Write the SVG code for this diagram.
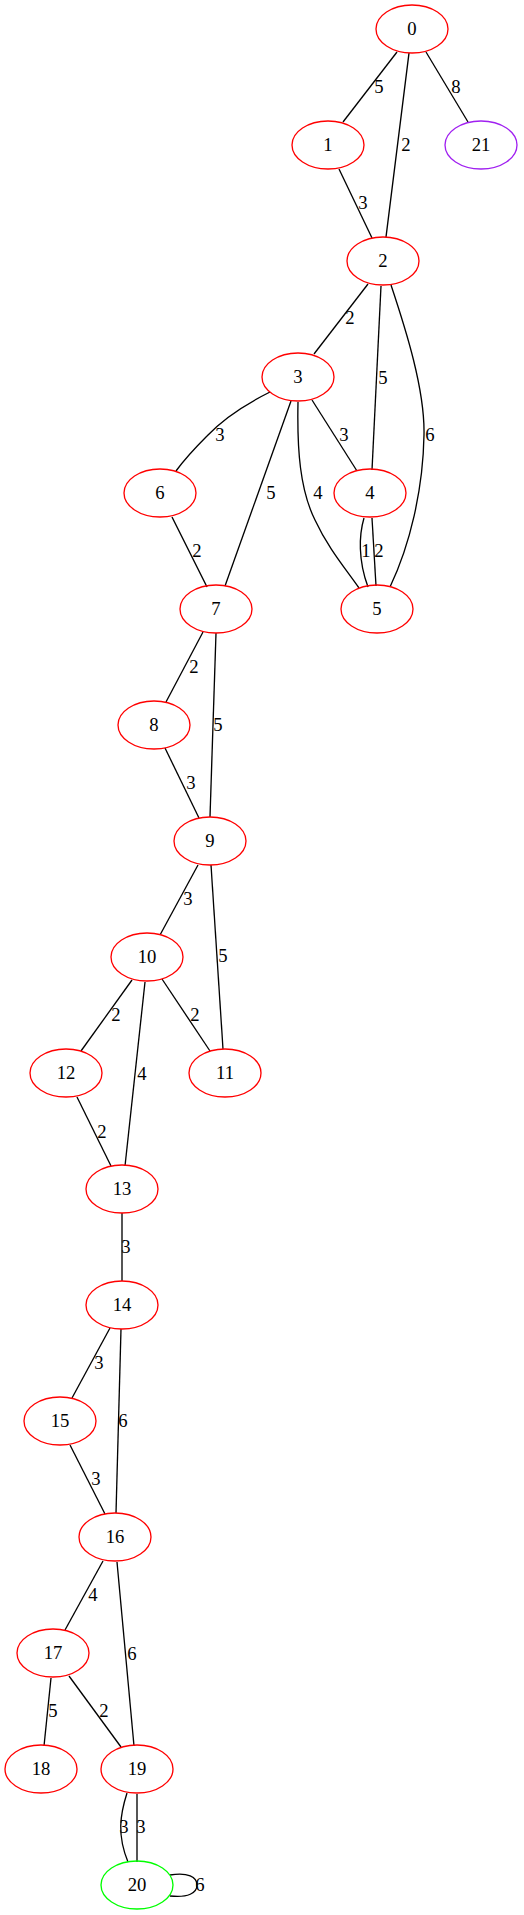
<svg xmlns="http://www.w3.org/2000/svg" width="524" height="1915" viewBox="0 0 524 1915">
<style>
.n ellipse{fill:none;stroke:#ff0000;stroke-width:1.33}
.n text,.e text{font-family:"Liberation Serif","Times New Roman",serif;font-size:18.67px;text-anchor:middle;fill:#000}
.e path{fill:none;stroke:#000;stroke-width:1.33}
</style>
<rect width="524" height="1915" fill="#fff"/>
<g id="edges" class="e">
<path d="M397,52 L343,122"/><text x="379" y="92.5">5</text>
<path d="M409,53 L386,237"/><text x="406" y="150.5">2</text>
<path d="M426,52 L468,122"/><text x="456" y="92.5">8</text>
<path d="M339,169 L372,238"/><text x="363" y="208.5">3</text>
<path d="M368,284 L314,354"/><text x="350" y="323.5">2</text>
<path d="M381,286 L372,470"/><text x="383" y="383.5">5</text>
<path d="M391,285 C406,330 425,390 424,435 C423,490 410,545 390,587"/><text x="430" y="440.5">6</text>
<path d="M270,392 C242,406 222,420 207,436 C194,449 184,460 176,471"/><text x="220" y="440.5">3</text>
<path d="M291,401 L225,586"/><text x="271" y="498.5">5</text>
<path d="M298,402 C297,450 300,490 315,520 C328,548 345,568 359,588"/><text x="318" y="498.5">4</text>
<path d="M312,400 L357,471"/><text x="344" y="440.5">3</text>
<path d="M364,518 C359,535 358,560 368,587"/><text x="366" y="556.5">1</text>
<path d="M372,518 L376,586"/><text x="379" y="556.5">2</text>
<path d="M172,517 L207,587"/><text x="197" y="556.5">2</text>
<path d="M203,632 L166,702"/><text x="194" y="672.5">2</text>
<path d="M216,633 L210,817"/><text x="218" y="730.5">5</text>
<path d="M165,748 L199,818"/><text x="191" y="788.5">3</text>
<path d="M198,865 L160,935"/><text x="188" y="904.5">3</text>
<path d="M211,865 L223,1049"/><text x="223" y="961.5">5</text>
<path d="M132,980 L81,1051"/><text x="116" y="1020.5">2</text>
<path d="M145,982 L125,1166"/><text x="142" y="1079.5">4</text>
<path d="M162,979 L210,1051"/><text x="195" y="1020.5">2</text>
<path d="M77,1097 L111,1166"/><text x="102" y="1137.5">2</text>
<path d="M122,1213 L122,1281"/><text x="126" y="1252.5">3</text>
<path d="M110,1328 L72,1398"/><text x="99" y="1368.5">3</text>
<path d="M121,1329 L116,1513"/><text x="123" y="1426.5">6</text>
<path d="M70,1445 L105,1514"/><text x="96" y="1484.5">3</text>
<path d="M103,1561 L65,1630"/><text x="93" y="1600.5">4</text>
<path d="M117,1562 L134,1746"/><text x="132" y="1659.5">6</text>
<path d="M51,1678 L44,1746"/><text x="53" y="1716.5">5</text>
<path d="M69,1676 L121,1747"/><text x="104" y="1716.5">2</text>
<path d="M127,1793 C120,1815 117,1835 128,1862"/><text x="124" y="1832.5">3</text>
<path d="M137,1794 L137,1862"/><text x="141" y="1832.5">3</text>
<path d="M170,1875 C188,1872 197,1877 197,1885 C197,1893 188,1898 170,1896"/><text x="200" y="1890.5">6</text>
</g>
<g id="n0" class="n"><ellipse cx="412" cy="29" rx="36" ry="24"/><text x="412" y="35">0</text></g>
<g id="n1" class="n"><ellipse cx="328" cy="145" rx="36" ry="24"/><text x="328" y="151">1</text></g>
<g id="n21" class="n"><ellipse cx="481" cy="145" rx="36" ry="24" style="stroke:#a020f0"/><text x="481" y="151">21</text></g>
<g id="n2" class="n"><ellipse cx="383" cy="261" rx="36" ry="24"/><text x="383" y="267">2</text></g>
<g id="n3" class="n"><ellipse cx="298" cy="377" rx="36" ry="24"/><text x="298" y="383">3</text></g>
<g id="n6" class="n"><ellipse cx="160" cy="493" rx="36" ry="24"/><text x="160" y="499">6</text></g>
<g id="n4" class="n"><ellipse cx="370" cy="493" rx="36" ry="24"/><text x="370" y="499">4</text></g>
<g id="n7" class="n"><ellipse cx="216" cy="609" rx="36" ry="24"/><text x="216" y="615">7</text></g>
<g id="n5" class="n"><ellipse cx="377" cy="609" rx="36" ry="24"/><text x="377" y="615">5</text></g>
<g id="n8" class="n"><ellipse cx="154" cy="725" rx="36" ry="24"/><text x="154" y="731">8</text></g>
<g id="n9" class="n"><ellipse cx="210" cy="841" rx="36" ry="24"/><text x="210" y="847">9</text></g>
<g id="n10" class="n"><ellipse cx="147" cy="957" rx="36" ry="24"/><text x="147" y="963">10</text></g>
<g id="n12" class="n"><ellipse cx="66" cy="1073" rx="36" ry="24"/><text x="66" y="1079">12</text></g>
<g id="n11" class="n"><ellipse cx="225" cy="1073" rx="36" ry="24"/><text x="225" y="1079">11</text></g>
<g id="n13" class="n"><ellipse cx="122" cy="1189" rx="36" ry="24"/><text x="122" y="1195">13</text></g>
<g id="n14" class="n"><ellipse cx="122" cy="1305" rx="36" ry="24"/><text x="122" y="1311">14</text></g>
<g id="n15" class="n"><ellipse cx="60" cy="1421" rx="36" ry="24"/><text x="60" y="1427">15</text></g>
<g id="n16" class="n"><ellipse cx="115" cy="1537" rx="36" ry="24"/><text x="115" y="1543">16</text></g>
<g id="n17" class="n"><ellipse cx="53" cy="1653" rx="36" ry="24"/><text x="53" y="1659">17</text></g>
<g id="n18" class="n"><ellipse cx="41" cy="1769" rx="36" ry="24"/><text x="41" y="1775">18</text></g>
<g id="n19" class="n"><ellipse cx="137" cy="1769" rx="36" ry="24"/><text x="137" y="1775">19</text></g>
<g id="n20" class="n"><ellipse cx="137" cy="1885" rx="36" ry="24" style="stroke:#00ff00"/><text x="137" y="1891">20</text></g>
</svg>
